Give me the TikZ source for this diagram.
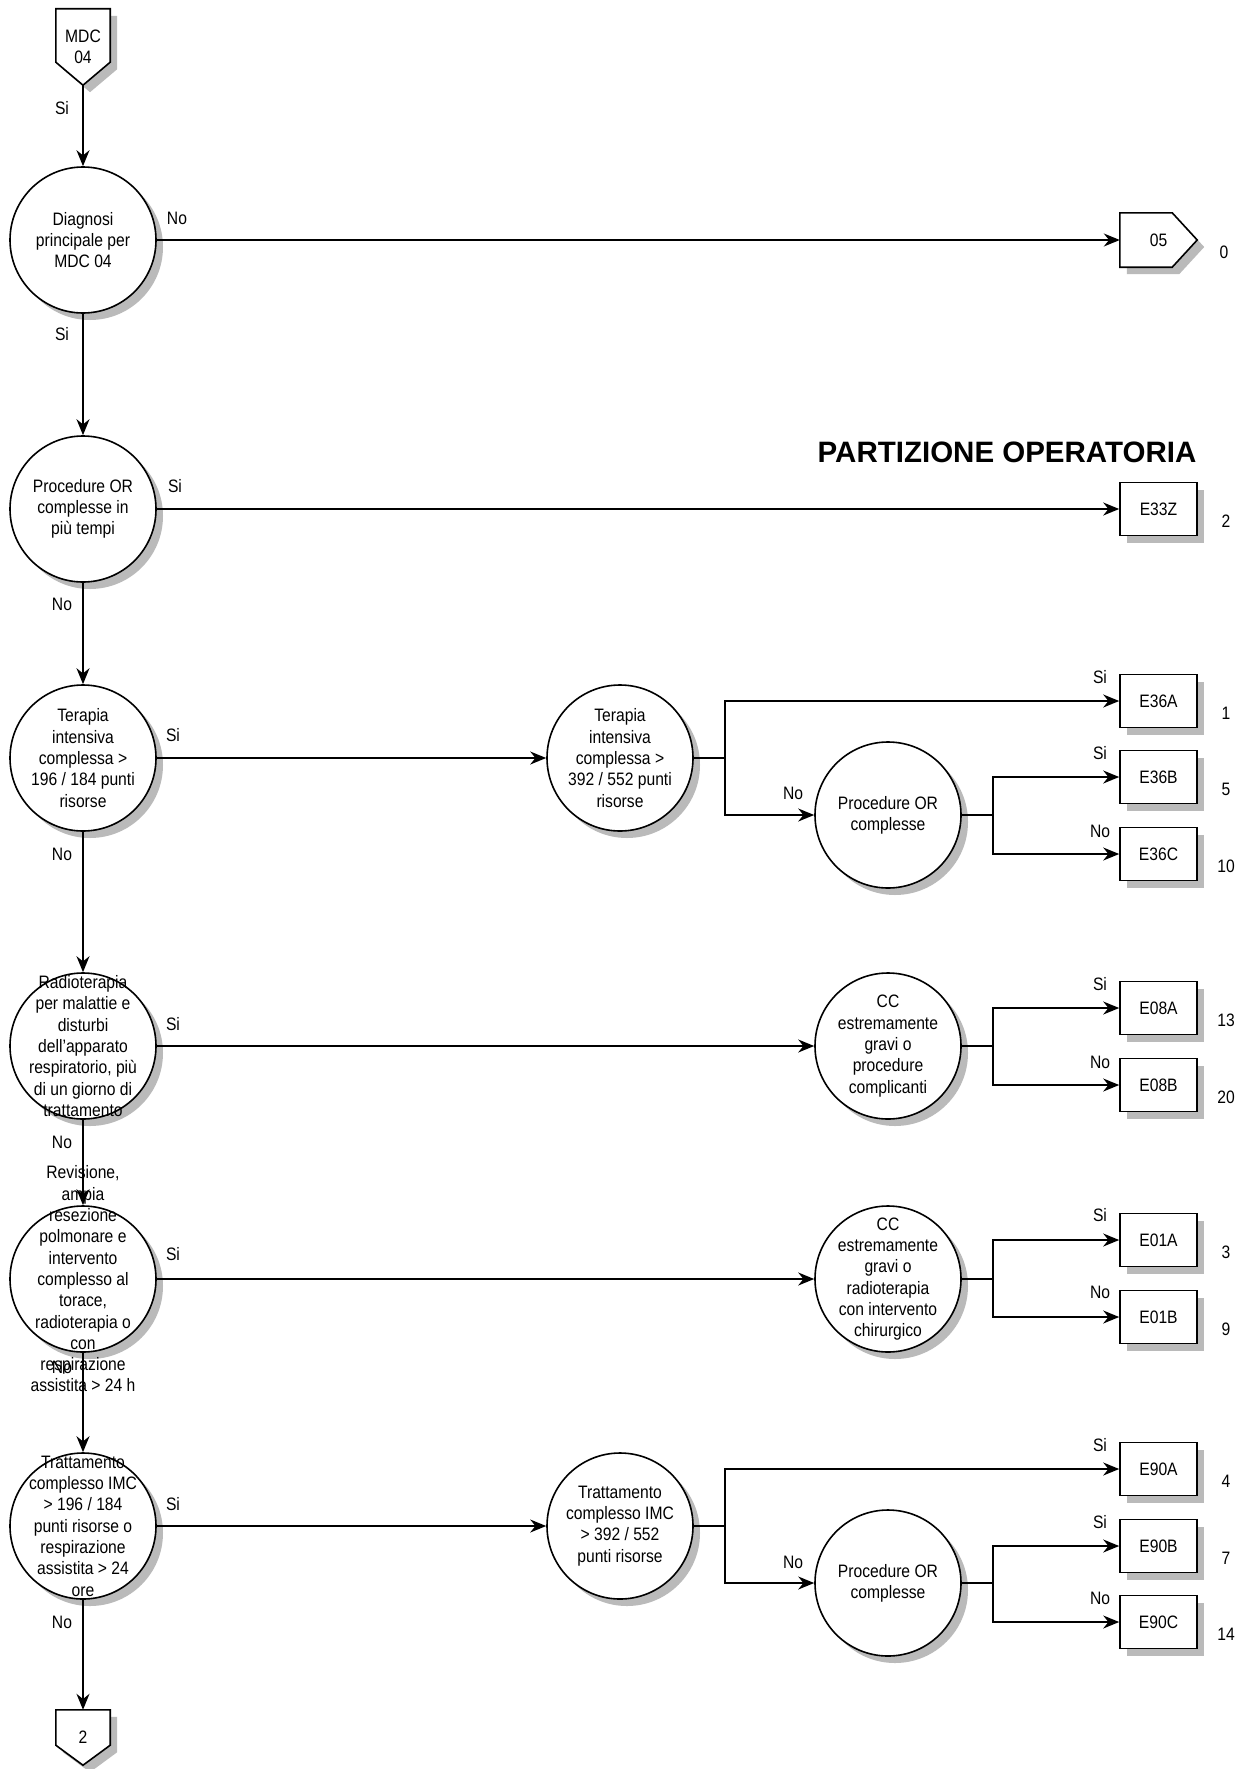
\documentclass[tikz,border=0pt]{standalone}
\usepackage{fontspec}
\setmainfont{Liberation Sans}[FakeStretch=0.87]
\newfontfamily\titlefont{Liberation Sans}
\usetikzlibrary{arrows.meta,positioning,shadows,backgrounds}

\begin{document}
\begin{tikzpicture}[
    x=1pt, y=-1pt,
    every node/.style={font=\fontsize{18}{21.3}\selectfont},
    shd/.style={drop shadow={shadow xshift=7pt, shadow yshift=-7pt,
                opacity=1, fill=black!27}},
    dec/.style={draw, circle, line width=1.6pt, minimum size=146pt,
                inner sep=0pt, fill=white, shd},
    txt/.style={align=center, inner sep=0pt},
    drg/.style={draw, line width=1.6pt, minimum width=77pt, minimum height=53pt,
                inner sep=0pt, fill=white, shd},
    offpage/.style={minimum width=54pt, inner sep=0pt, align=center},
    pagebox/.style={draw, line width=1.6pt, fill=white, shd},
    flow/.style={line width=1.6pt, -{Stealth[length=16pt, width=13pt]}},
    link/.style={line width=1.6pt},
    ans/.style={inner sep=0pt},
]
\useasboundingbox (0,0) rectangle (1250,1769);

% === Off-page connectors ===
\node[offpage, minimum height=76pt] (mdc) at (83,47) {MDC\\04};
\node[offpage, minimum height=55pt] (two) at (83,1737.5) {2};
\node[offpage, minimum width=77pt, minimum height=54pt] (mdc05) at (1158.5,240) {05};
\node[ans] (n05) at (1224,252) {0};

% === Main column ===
\node[dec, label={[txt]center:{Diagnosi\\principale per\\MDC 04}}] (diag) at (83,240) {};
\node[dec, label={[txt]center:{Procedure OR\\complesse in\\più tempi}}] (multi) at (83,509) {};
\node[dec, label={[txt]center:{Terapia\\intensiva\\complessa >\\196 / 184 punti\\risorse}}] (tic1) at (83,758) {};
\node[dec, label={[txt]center:{Radioterapia\\per malattie e\\disturbi\\dell'apparato\\respiratorio, più\\di un giorno di\\trattamento}}] (radio) at (83,1046) {};
\node[dec, label={[txt]center:{Revisione,\\ampia\\resezione\\polmonare e\\intervento\\complesso al\\torace,\\radioterapia o\\con\\respirazione\\assistita > 24 h}}] (resez) at (83,1279) {};
\node[dec, label={[txt]center:{Trattamento\\complesso IMC\\> 196 / 184\\punti risorse o\\respirazione\\assistita > 24\\ore}}] (imc1) at (83,1526) {};

% === Second and third columns ===
\node[dec, label={[txt]center:{Terapia\\intensiva\\complessa >\\392 / 552 punti\\risorse}}] (tic2) at (620,758) {};
\node[dec, label={[txt]center:{Procedure OR\\complesse}}] (proc1) at (888,815) {};
\node[dec, label={[txt]center:{CC\\estremamente\\gravi o\\procedure\\complicanti}}] (cc1) at (888,1046) {};
\node[dec, label={[txt]center:{CC\\estremamente\\gravi o\\radioterapia\\con intervento\\chirurgico}}] (cc2) at (888,1279) {};
\node[dec, label={[txt]center:{Trattamento\\complesso IMC\\> 392 / 552\\punti risorse}}] (imc2) at (620,1526) {};
\node[dec, label={[txt]center:{Procedure OR\\complesse}}] (proc2) at (888,1583) {};

% === DRG boxes and counts ===
\foreach \code/\yy/\cnt in {E33Z/509/2, E36A/701/1, E36B/777/5, E36C/854/10,
    E08A/1008/13, E08B/1085/20, E01A/1240/3, E01B/1317/9,
    E90A/1469/4, E90B/1546/7, E90C/1622/14} {
  \node[drg] (\code) at (1158.5,\yy) {\code};
  \node[ans] (n\code) at (1226,\yy+12) {\cnt};
}

\node[font=\titlefont\bfseries\fontsize{29.5}{34}\selectfont] (title) at (1007,452) {PARTIZIONE OPERATORIA};

% === Outlines of the off-page connectors ===
\begin{scope}[on background layer]
  \fill[white] (0,0) rectangle (1250,1769);
  \draw[pagebox] (mdc.north west) -- (mdc.north east) -- ([yshift=23pt]mdc.south east)
    -- (mdc.south) -- ([yshift=23pt]mdc.south west) -- cycle;
  \draw[pagebox] (two.north west) -- (two.north east) -- ([yshift=20pt]two.south east)
    -- (two.south) -- ([yshift=20pt]two.south west) -- cycle;
  \draw[pagebox] (mdc05.north west) -- ([xshift=-25pt]mdc05.north east) -- (mdc05.east)
    -- ([xshift=-25pt]mdc05.south east) -- (mdc05.south west) -- cycle;
\end{scope}

% === Connectors ===
\foreach \a/\b in {mdc/diag, diag/multi, multi/tic1, tic1/radio, radio/resez, resez/imc1, imc1/two}
  \draw[flow] (\a.south) -- (\b.north);
\foreach \a/\b in {diag/mdc05, multi/E33Z, tic1/tic2, radio/cc1, resez/cc2, imc1/imc2}
  \draw[flow] (\a.east) -- (\b.west);
\foreach \src/\up/\dn in {tic2/E36A/proc1, proc1/E36B/E36C, cc1/E08A/E08B,
    cc2/E01A/E01B, imc2/E90A/proc2, proc2/E90B/E90C} {
  \draw[link] (\src.east) -- ++(31,0) coordinate (j\src);
  \draw[flow] (j\src) |- (\up.west);
  \draw[flow] (j\src) |- (\dn.west);
}

% === Answers ===
\foreach \t/\xx/\yy [count=\i] in {Si/62/108, Si/62/334, No/62/604, No/62/854,
    No/62/1142, No/62/1367, No/62/1622,
    No/177/218, Si/175/486, Si/173/735, Si/173/1024, Si/173/1254, Si/173/1504,
    No/793/793, No/793/1562,
    Si/1100/677, Si/1100/753, No/1100/831, Si/1100/984, No/1100/1062,
    Si/1100/1215, No/1100/1292, Si/1100/1445, Si/1100/1522, No/1100/1598}
  \node[ans] (ans\i) at (\xx,\yy) {\t};

\end{tikzpicture}
\end{document}
